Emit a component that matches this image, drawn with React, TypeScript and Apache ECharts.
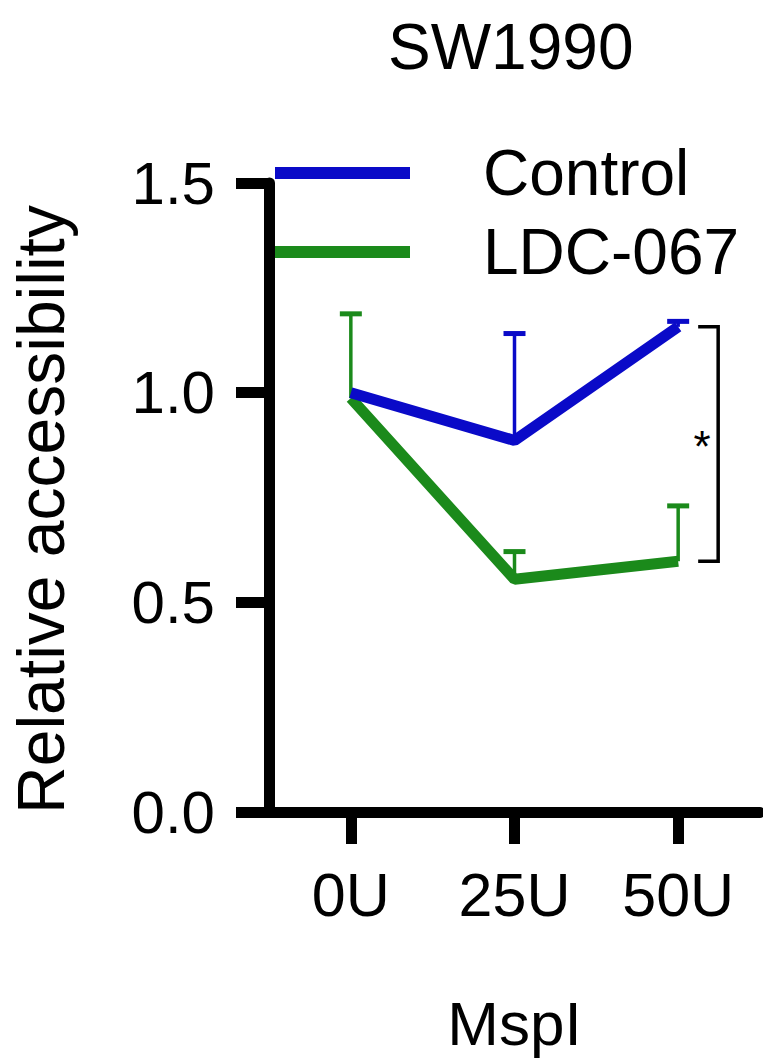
import React, { useEffect, useRef } from "react";
import * as echarts from "echarts";

const categories = ["0U", "25U", "50U"];
const controlMean = [1.0, 0.886, 1.157];
const controlUpper = [1.0, 1.141, 1.17];
const ldcMean = [0.987, 0.555, 0.598];
const ldcUpper = [1.188, 0.621, 0.73];
const yTicks = [0, 0.5, 1.0, 1.5];
const seriesNames = ["Control", "LDC-067"];
const significance = "*";

const BLUE = "#0a0ac8";
const GREEN = "#1b8a1b";
const FONT = "'Liberation Sans', Arial, sans-serif";

export default function App() {
  const ref = useRef<HTMLDivElement>(null);
  useEffect(() => {
    if (!ref.current) return;
    const chart = echarts.init(ref.current, null, { renderer: "svg" });

    const errorSeries = (name: string, mean: number[], upper: number[], color: string, z: number) => ({
      type: "custom",
      name: name + " err",
      z,
      silent: true,
      data: mean.map((m, i) => [i, m, upper[i]]),
      renderItem: (params: any, api: any) => {
        const i = api.value(0);
        const p0 = api.coord([i, api.value(1)]);
        const p1 = api.coord([i, api.value(2)]);
        if (Math.abs(p0[1] - p1[1]) < 1) return { type: "group", children: [] };
        const hw = 11;
        return {
          type: "group",
          children: [
            { type: "line", shape: { x1: p0[0], y1: p0[1], x2: p1[0], y2: p1[1] }, style: { stroke: color, lineWidth: 3.5 } },
            { type: "line", shape: { x1: p1[0] - hw, y1: p1[1], x2: p1[0] + hw, y2: p1[1] }, style: { stroke: color, lineWidth: 5 } },
          ],
        };
      },
    });

    const last = categories.length - 1;
    const bracketSeries = {
      type: "custom",
      name: "bracket",
      silent: true,
      z: 10,
      data: [[last, controlMean[last], ldcMean[last]]],
      renderItem: (params: any, api: any) => {
        const pTop = api.coord([api.value(0), api.value(1)]);
        const pBot = api.coord([api.value(0), api.value(2)]);
        const xs = pTop[0] + 20;
        const xe = pTop[0] + 40;
        return {
          type: "group",
          children: [
            {
              type: "polyline",
              shape: { points: [[xs, pTop[1]], [xe, pTop[1]], [xe, pBot[1]], [xs, pBot[1]]] },
              style: { stroke: "#000", lineWidth: 3.5, fill: "none" },
            },
            {
              type: "text",
              style: {
                text: significance,
                x: xe - 16,
                y: (pTop[1] + pBot[1]) / 2 + 2,
                align: "center",
                verticalAlign: "middle",
                fontSize: 44,
                fontFamily: FONT,
                fill: "#000",
              },
            },
          ],
        };
      },
    };

    chart.setOption({
      animation: false,
      backgroundColor: "#fff",
      title: {
        text: "SW1990",
        left: 383,
        top: 10,
        textStyle: { fontSize: 64, fontWeight: "normal", color: "#000", fontFamily: FONT },
      },
      legend: {
        data: seriesNames,
        orient: "vertical",
        left: 270,
        top: 136,
        icon: "rect",
        itemWidth: 135,
        itemHeight: 12,
        itemGap: 15,
        textStyle: { fontSize: 64, color: "#000", fontFamily: FONT, padding: [0, 0, 0, 68] },
      },
      grid: { left: 250, top: 183, width: 510, height: 635, containLabel: false },
      xAxis: {
        type: "category",
        data: categories,
        boundaryGap: true,
        name: "MspI",
        nameLocation: "middle",
        nameGap: 180,
        nameTextStyle: { fontSize: 62, color: "#000", fontFamily: FONT },
        axisLine: { show: true, lineStyle: { color: "#000", width: 11 } },
        axisTick: { show: true, alignWithLabel: true, length: 32, lineStyle: { color: "#000", width: 11 } },
        axisLabel: { fontSize: 61, color: "#000", fontFamily: FONT, margin: 52 },
        splitLine: { show: false },
      },
      yAxis: {
        type: "value",
        min: 0,
        max: 1.5,
        interval: 0.5,
        name: "Relative accessibility",
        nameLocation: "middle",
        nameGap: 195,
        nameTextStyle: { fontSize: 66, color: "#000", fontFamily: FONT, padding: [0, 24, 0, 0] },
        axisLine: { show: true, lineStyle: { color: "#000", width: 11 } },
        axisTick: { show: true, length: 33, lineStyle: { color: "#000", width: 11 } },
        axisLabel: {
          fontSize: 60,
          color: "#000",
          fontFamily: FONT,
          margin: 54,
          formatter: (v: number) => (yTicks.includes(v) ? v.toFixed(1) : ""),
        },
        splitLine: { show: false },
      },
      series: [
        errorSeries("LDC-067", ldcMean, ldcUpper, GREEN, 2),
        errorSeries("Control", controlMean, controlUpper, BLUE, 2),
        {
          type: "line",
          name: "LDC-067",
          data: ldcMean,
          symbol: "none",
          z: 3,
          lineStyle: { color: GREEN, width: 11 },
          itemStyle: { color: GREEN },
        },
        {
          type: "line",
          name: "Control",
          data: controlMean,
          symbol: "none",
          z: 4,
          lineStyle: { color: BLUE, width: 11 },
          itemStyle: { color: BLUE },
        },
        bracketSeries,
      ],
    });
    return () => chart.dispose();
  }, []);

  return (
    <div
      ref={ref}
      style={{ position: "absolute", left: 0, top: 0, width: 763, height: 1059, background: "#fff" }}
    />
  );
}
